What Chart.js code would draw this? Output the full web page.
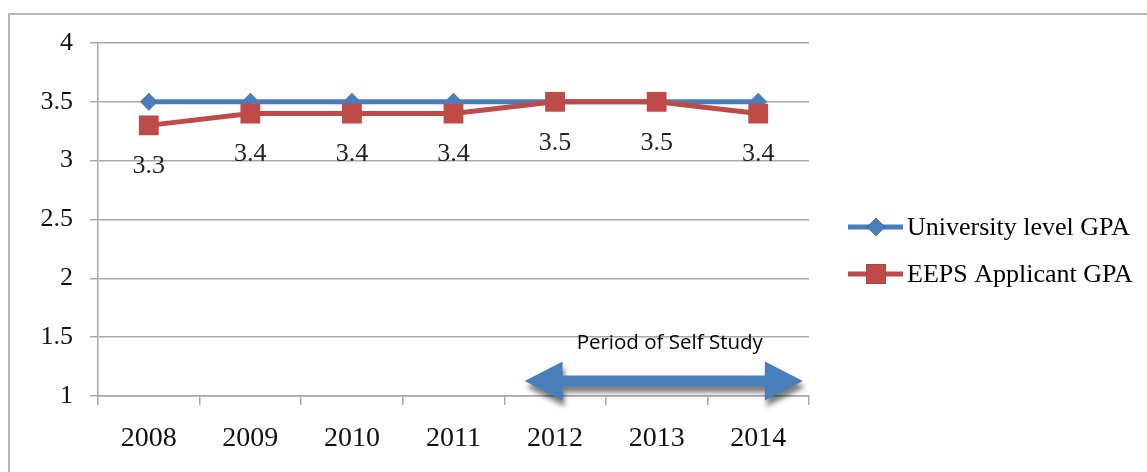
<!DOCTYPE html>
<html><head><meta charset="utf-8">
<script src="https://cdn.jsdelivr.net/npm/chart.js@4.4.0/dist/chart.umd.min.js"></script>
<style>
html,body{margin:0;padding:0;background:#fff;overflow:hidden;width:1147px;height:472px;}
#frame{position:absolute;left:8px;top:13px;width:1400px;height:800px;border:2px solid #B4B4B4;box-sizing:border-box;}
canvas{position:absolute;left:0;top:0;}
</style></head><body>
<div id="frame"></div>
<canvas id="c" width="1147" height="472"></canvas>
<script>
const categories = ['2008','2009','2010','2011','2012','2013','2014'];
const universityGPA = [3.5, 3.5, 3.5, 3.5, 3.5, 3.5, 3.5];
const eepsGPA = [3.3, 3.4, 3.4, 3.4, 3.5, 3.5, 3.4];
const yTickValues = [1, 1.5, 2, 2.5, 3, 3.5, 4];
const seriesNames = ['University level GPA', 'EEPS Applicant GPA'];
const periodLabel = 'Period of Self Study';
const periodStart = '2012';
const periodEnd = '2014';

const SERIF = '"Liberation Serif", "Times New Roman", serif';
const BLUE = '#4A7EBB';
const RED = '#BE4B48';
const GRID = '#A8A8A8';

const dataLabels = {
  id: 'dataLabels',
  afterDatasetsDraw(chart) {
    const ctx = chart.ctx;
    const meta = chart.getDatasetMeta(1);
    ctx.save();
    ctx.font = '26px ' + SERIF;
    ctx.fillStyle = '#222';
    ctx.textAlign = 'center';
    ctx.textBaseline = 'middle';
    meta.data.forEach((pt, i) => {
      ctx.fillText(String(eepsGPA[i]), pt.x, pt.y + 41);
    });
    ctx.restore();
  }
};

const periodArrow = {
  id: 'periodArrow',
  afterDraw(chart) {
    const ctx = chart.ctx;
    const xs = chart.scales.x, ys = chart.scales.y;
    const i0 = categories.indexOf(periodStart), i1 = categories.indexOf(periodEnd);
    const xL = xs.getPixelForValue(i0 - 0.3);
    const xR = xs.getPixelForValue(i1 + 0.44);
    const y = ys.getPixelForValue(1) - 15;
    const hl = 38, hh = 19.5, st = 5.5;
    ctx.save();
    ctx.shadowColor = 'rgba(0,0,0,0.5)';
    ctx.shadowOffsetX = 2;
    ctx.shadowOffsetY = 6;
    ctx.shadowBlur = 5;
    ctx.fillStyle = BLUE;
    ctx.beginPath();
    ctx.moveTo(xL, y);
    ctx.lineTo(xL + hl, y - hh);
    ctx.lineTo(xL + hl, y - st);
    ctx.lineTo(xR - hl, y - st);
    ctx.lineTo(xR - hl, y - hh);
    ctx.lineTo(xR, y);
    ctx.lineTo(xR - hl, y + hh);
    ctx.lineTo(xR - hl, y + st);
    ctx.lineTo(xL + hl, y + st);
    ctx.lineTo(xL + hl, y + hh);
    ctx.closePath();
    ctx.fill();
    ctx.restore();
    ctx.save();
    ctx.font = '20.5px "Open Sans", "Liberation Sans", sans-serif';
    ctx.fillStyle = '#000';
    ctx.textAlign = 'center';
    ctx.textBaseline = 'alphabetic';
    ctx.fillText(periodLabel, (xL + xR) / 2 + 6, y - 32);
    ctx.restore();
  }
};

const customLegend = {
  id: 'customLegend',
  afterDraw(chart) {
    const ctx = chart.ctx;
    const x0 = chart.chartArea.right + 39;
    const ys = [227, 274];
    chart.data.datasets.forEach((ds, i) => {
      const y = ys[i];
      ctx.save();
      ctx.strokeStyle = ds.borderColor;
      ctx.lineWidth = 5;
      ctx.beginPath();
      ctx.moveTo(x0, y);
      ctx.lineTo(x0 + 55, y);
      ctx.stroke();
      Chart.helpers.drawPoint(ctx, {
        pointStyle: ds.pointStyle, radius: ds.pointRadius, borderWidth: 0, rotation: 0
      }, x0 + 28, y);
      ctx.fillStyle = ds.backgroundColor;
      ctx.fill();
      ctx.font = '26px ' + SERIF;
      ctx.fillStyle = '#000';
      ctx.textAlign = 'left';
      ctx.textBaseline = 'middle';
      ctx.fillText(seriesNames[i], x0 + 59, y + 1);
      ctx.restore();
    });
  }
};

new Chart(document.getElementById('c'), {
  type: 'line',
  data: {
    labels: categories,
    datasets: [
      {
        label: seriesNames[0], data: universityGPA,
        borderColor: BLUE, backgroundColor: BLUE, borderWidth: 5,
        pointStyle: 'rectRot', pointRadius: 9, pointBorderWidth: 0,
        pointBackgroundColor: BLUE, tension: 0, order: 2
      },
      {
        label: seriesNames[1], data: eepsGPA,
        borderColor: RED, backgroundColor: RED, borderWidth: 5,
        pointStyle: 'rect', pointRadius: 14, pointBorderWidth: 0,
        pointBackgroundColor: RED, tension: 0, order: 1
      }
    ]
  },
  options: {
    responsive: false, animation: false, devicePixelRatio: 1,
    layout: { padding: { left: 0, top: 43, right: 338, bottom: 0 } },
    plugins: { legend: { display: false }, tooltip: { enabled: false } },
    scales: {
      x: {
        offset: true,
        grid: { offset: true, drawOnChartArea: false, drawTicks: true, tickLength: 9, color: GRID, lineWidth: 1.5 },
        border: { color: GRID, width: 1.5 },
        ticks: { font: { family: SERIF, size: 28 }, color: '#111', padding: 17, maxRotation: 0 },
        afterFit(s) { s.height = 76; }
      },
      y: {
        min: 1, max: 4,
        afterBuildTicks(s) { s.ticks = yTickValues.map(v => ({ value: v })); },
        grid: { color: GRID, lineWidth: 1.5, tickLength: 8 },
        border: { color: GRID, width: 1.5 },
        ticks: { font: { family: SERIF, size: 26 }, color: '#111', padding: 17, callback: v => String(v) },
        afterFit(s) { s.width = 98; }
      }
    }
  },
  plugins: [dataLabels, periodArrow, customLegend]
});
</script>
</body></html>
